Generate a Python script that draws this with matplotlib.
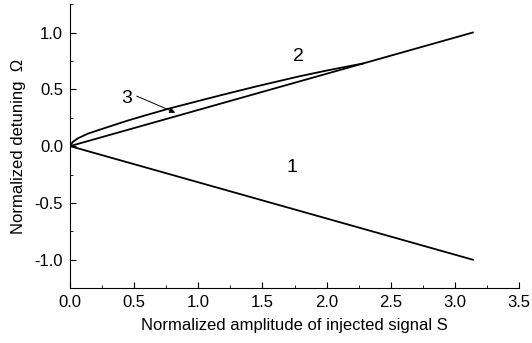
import matplotlib
matplotlib.use("Agg")
import matplotlib.pyplot as plt
from matplotlib.ticker import MultipleLocator

plt.rcParams["font.family"] = ["Liberation Sans", "DejaVu Sans"]
plt.rcParams["axes.unicode_minus"] = False

# Fronteras de sincronizacion (rectas) y curva de estabilidad
s_recta = [0.0, 3.14]
omega_sup = [0.0, 1.0]
omega_inf = [0.0, -1.0]

s_curva = [0.0, 0.02, 0.06, 0.14, 0.30, 0.45, 0.57, 0.77, 1.01, 1.2,
           1.45, 1.79, 2.0, 2.18, 2.28]
omega_curva = [0.0, 0.035, 0.068, 0.11, 0.17, 0.225, 0.265, 0.33, 0.40, 0.455,
               0.525, 0.615, 0.665, 0.705, 0.726]

fig = plt.figure(figsize=(5.32, 3.43), dpi=100)
ax = fig.add_axes([0.1316, 0.160, 0.8440, 0.828])

ax.plot(s_recta, omega_sup, color="black", lw=1.3)
ax.plot(s_recta, omega_inf, color="black", lw=1.3)
ax.plot(s_curva, omega_curva, color="black", lw=1.3)

ax.text(1.73, -0.19, "1", fontsize=14, ha="center", va="center")
ax.text(1.78, 0.79, "2", fontsize=14, ha="center", va="center")
ax.text(0.44, 0.42, "3", fontsize=14, ha="center", va="center")
ax.annotate("", xy=(0.84, 0.285), xytext=(0.5, 0.45),
            arrowprops=dict(arrowstyle="-|>", color="black", lw=0.7,
                            mutation_scale=8))

ax.set_xlim(0, 3.5)
ax.set_ylim(-1.25, 1.25)
ax.xaxis.set_major_locator(MultipleLocator(0.5))
ax.xaxis.set_minor_locator(MultipleLocator(0.25))
ax.yaxis.set_major_locator(MultipleLocator(0.5))
ax.yaxis.set_minor_locator(MultipleLocator(0.25))
ax.tick_params(which="both", direction="in", labelsize=12)
ax.tick_params(which="major", length=4, pad=5)
ax.tick_params(which="minor", length=2)
ax.spines["top"].set_visible(False)
ax.spines["right"].set_visible(False)

ax.set_xlabel("Normalized amplitude of injected signal S", fontsize=12, labelpad=6)
ax.set_ylabel("Normalized detuning  Ω", fontsize=12, labelpad=6)

fig.savefig("out.png", dpi=100)
plt.close(fig)
